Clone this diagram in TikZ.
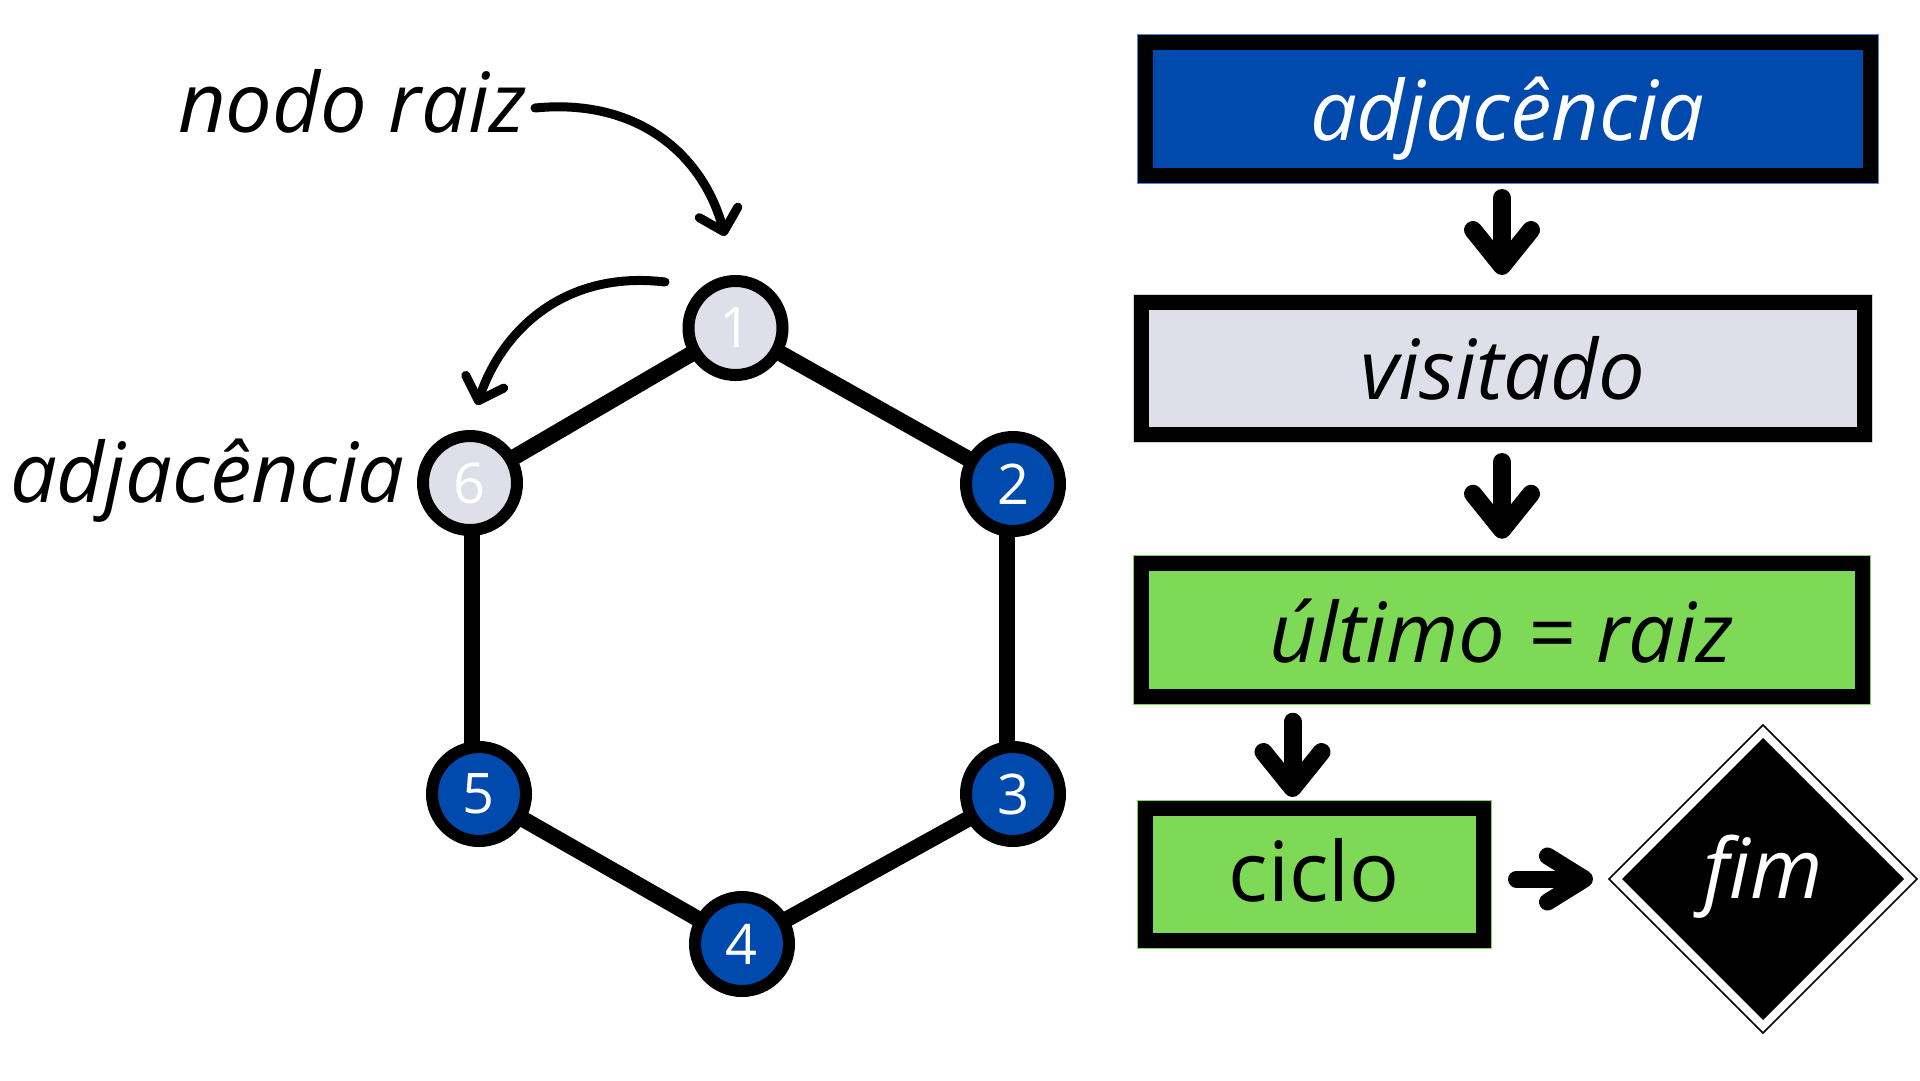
\documentclass[tikz,border=0pt]{standalone}
\usepackage{fontspec}
\setmainfont{Open Sans}
\usetikzlibrary{arrows.meta,shapes.geometric,calc}
\definecolor{cblue}{HTML}{004AAD}
\definecolor{cgray}{HTML}{DFDFE9}
\definecolor{cgrayline}{HTML}{D2D2DC}
\definecolor{cgreen}{HTML}{7ED957}
\definecolor{cblueline}{HTML}{4A86E8}
\pgfdeclarelayer{bg}
\pgfsetlayers{bg,main}
\begin{document}
\begin{tikzpicture}[x=1pt,y=-1pt,
  box/.style={rectangle, draw=black, line width=15pt, inner sep=0pt, outer sep=0pt,
    font=\fontsize{83}{83}\selectfont\itshape, text depth=0pt},
  gnode/.style={circle, draw=black, line width=12pt, minimum size=94pt, inner sep=0pt,
    outer sep=0pt, text=white, font=\fontsize{56}{56}\selectfont},
  edge/.style={line width=16pt},
  bigarrow/.style={line width=18pt, line cap=round, -{Straight Barb[length=36pt,width=58pt,round]}},
  curvearrow/.style={line width=9pt, line cap=round, -{Straight Barb[length=20pt,width=40pt,round]}},
  lbl/.style={inner sep=0pt, outer sep=0pt, font=\fontsize{83}{83}\selectfont\itshape, anchor=base west}
]
\useasboundingbox (0,0) rectangle (1920,1080);

% graph nodes
\node[gnode, fill=cgray] (n1) at (735.5,328) {1};
\node[gnode, fill=cblue] (n2) at (1013,484) {2};
\node[gnode, fill=cblue] (n3) at (1013,794) {3};
\node[gnode, fill=cblue] (n4) at (742,944) {4};
\node[gnode, fill=cblue] (n5) at (479,794) {5};
\node[gnode, fill=cgray] (n6) at (470,483) {6};

\begin{pgfonlayer}{bg}
  \fill[white] (0,0) rectangle (1920,1080);
  \draw[edge] (n1) -- (n2);
  \draw[edge] ([xshift=-6pt]n2.center) -- ([xshift=-6pt]n3.center);
  \draw[edge] (n3) -- (n4);
  \draw[edge] (n4) -- (n5);
  \draw[edge] ([xshift=2pt]n6.center) -- ([xshift=2pt]n6.center |- n5.center);
  \draw[edge] (n6) -- (n1);
\end{pgfonlayer}

% labels
\node[lbl] (lraiz) at (178,132) {nodo raiz};
\node[lbl] (ladj) at (10,502) {adjacência};

% curved arrows
\coordinate (a1s) at (535,108);
\coordinate (a1e) at (725,236);
\draw[curvearrow] (a1s) .. controls (635,98) and (702,152) .. (a1e);
\coordinate (a2s) at (665,282);
\coordinate (a2e) at (477,405);
\draw[curvearrow] (a2s) .. controls (565,270) and (502,330) .. (a2e);

% flow boxes
\node[box, fill=cblue, preaction={draw=cblueline, line width=17pt}, text=white,
  minimum width=725pt, minimum height=132.5pt, text height=62.5pt] (b1) at (1507.5,108.75) {adjacência};
\node[box, fill=cgray, preaction={draw=cgrayline, line width=17pt},
  minimum width=723.5pt, minimum height=132pt, text height=62pt] (b2) at (1503,368) {visitado};
\node[box, fill=cgreen, preaction={draw=cgreen, line width=17pt},
  minimum width=721pt, minimum height=132.5pt, text height=64pt] (b3) at (1501.5,630) {último = raiz};
\node[box, fill=cgreen, preaction={draw=cgreen, line width=17pt},
  font=\fontsize{83}{83}\selectfont\upshape,
  minimum width=338pt, minimum height=132pt, text height=53pt] (b4) at (1314.5,874.5) {ciclo};

% end diamond
\node[diamond, aspect=1, draw=black, line width=1.5pt, fill=white, minimum width=308pt,
  minimum height=308pt, inner sep=0pt, outer sep=0pt] (fimframe) at (1763,879) {};
\node[diamond, aspect=1, fill=black, minimum width=282pt, minimum height=282pt, inner sep=0pt,
  outer sep=0pt, text=white, font=\fontsize{83}{83}\selectfont\itshape,
  text height=38pt, text depth=0pt] (fim) at (fimframe.center) {fim};

% straight arrows
\draw[bigarrow, shorten <=23pt, shorten >=27pt] ([xshift=-5.5pt]b1.south) -- ([xshift=-1pt]b2.north);
\draw[bigarrow, shorten <=28pt, shorten >=25pt] ([xshift=-1pt]b2.south) -- ([xshift=0.5pt]b3.north);
\draw[bigarrow, shorten <=25.5pt, shorten >=11.5pt] ([xshift=-22pt]b4.north |- b3.south) -- ([xshift=-22pt]b4.north);
\draw[line width=17pt, line cap=round, -{Straight Barb[length=37pt,width=46pt,round]},
  shorten <=33pt, shorten >=16pt] (b4.east |- fimframe.west) -- (fimframe.west);
\end{tikzpicture}
\end{document}
